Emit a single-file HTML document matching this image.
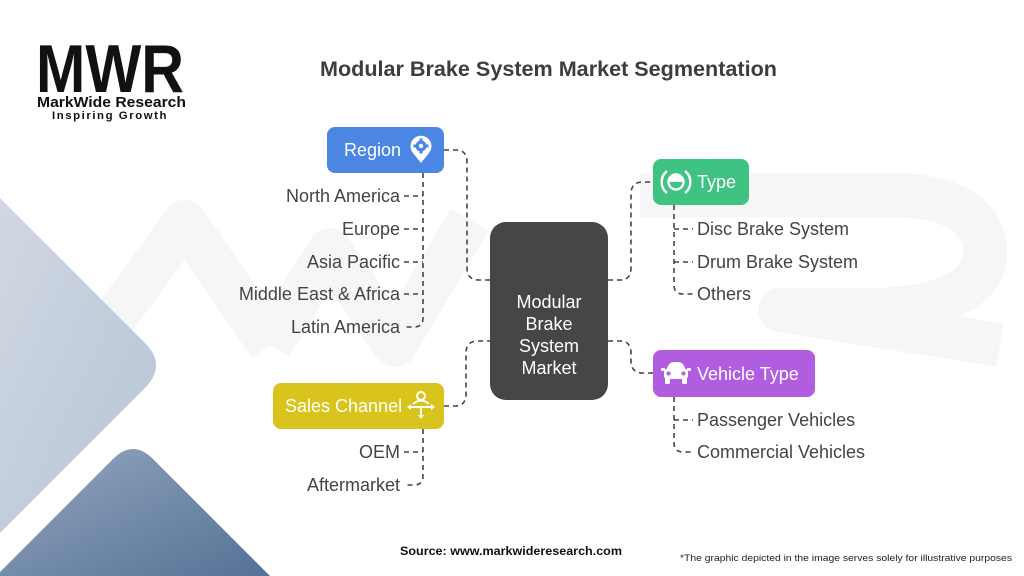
<!DOCTYPE html>
<html><head><meta charset="utf-8"><style>
html,body{margin:0;padding:0;background:#fff;}
svg{display:block;}
text{font-family:"Liberation Sans",Arial,sans-serif;}
</style></head><body>
<svg width="1024" height="576" viewBox="0 0 1024 576" xmlns="http://www.w3.org/2000/svg">
<defs>
<linearGradient id="gl" x1="0" y1="0" x2="1" y2="1"><stop offset="0" stop-color="#d0d8e2"/><stop offset="1" stop-color="#b6c4d4"/></linearGradient>
<linearGradient id="gd" x1="0" y1="0" x2="1" y2="1"><stop offset="0" stop-color="#93a7c0"/><stop offset="1" stop-color="#557195"/></linearGradient>
</defs>
<rect width="1024" height="576" fill="#fff"/>
<!-- watermark -->
<g fill="none" stroke="#f6f6f6" stroke-width="44" stroke-linejoin="round">
<polyline points="95,345 185,222 270,345"/>
<polyline points="270,345 330,250 395,345 470,220"/>
<path d="M640,195 H900 Q990,200 985,260 Q975,305 880,310 H780 L1000,345"/>
</g>
<!-- left decorative shapes -->
<path d="M0,198 L145,343 Q167,365 145,388 L0,533 Z" fill="url(#gl)"/>
<path d="M0,572 L113,459 Q133,439 153,459 L270,576 L0,576 Z" fill="url(#gd)"/>
<!-- logo -->
<text x="36" y="92" font-size="68" font-weight="bold" fill="#111" textLength="148" lengthAdjust="spacingAndGlyphs">MWR</text>
<text x="37" y="107" font-size="14.5" font-weight="bold" fill="#111" textLength="149" lengthAdjust="spacingAndGlyphs">MarkWide Research</text>
<text x="52" y="119" font-size="11" font-weight="bold" fill="#111" letter-spacing="1.5" textLength="116" lengthAdjust="spacingAndGlyphs">Inspiring Growth</text>
<!-- title -->
<text x="320" y="76" font-size="21" font-weight="bold" fill="#3d3d3d" textLength="457" lengthAdjust="spacingAndGlyphs">Modular Brake System Market Segmentation</text>
<!-- connectors -->
<g fill="none" stroke="#444" stroke-width="1.6" stroke-dasharray="5 4">
<path d="M444,150 H456 Q467,150 467,162 V268 Q467,280 479,280 H490"/>
<path d="M608,280 H620 Q631,280 631,268 V194 Q631,182 643,182 H653"/>
<path d="M444,406 H455 Q466,406 466,394 V353 Q466,341 478,341 H490"/>
<path d="M608,341 H620 Q631,341 631,353 V361 Q631,373 643,373 H653"/>
<path d="M423,173 V318 Q423,327 414,327 H404"/>
<path d="M404,196 H423 M404,229 H423 M404,262 H423 M404,294 H423"/>
<path d="M674,205 V285 Q674,294 683,294 H693"/>
<path d="M674,229 H693 M674,262 H693"/>
<path d="M674,397 V443 Q674,452 683,452 H693"/>
<path d="M674,420 H693"/>
<path d="M423,429 V476 Q423,485 414,485 H404"/>
<path d="M404,452 H423"/>
</g>
<!-- center -->
<rect x="490" y="222" width="118" height="178" rx="16" fill="#464646"/>
<g font-size="18" fill="#fff" text-anchor="middle">
<text x="549" y="308">Modular</text>
<text x="549" y="330">Brake</text>
<text x="549" y="352">System</text>
<text x="549" y="374">Market</text>
</g>
<!-- Region -->
<rect x="327" y="127" width="117" height="46" rx="8" fill="#4a86e2"/>
<text x="344" y="156" font-size="18" fill="#fff">Region</text>
<path d="M421,163 L413,153 A10.5,10.5 0 1 1 429,153 Z" fill="#fff"/>
<circle cx="421" cy="146" r="5.5" fill="#4a86e2"/>
<circle cx="421" cy="146" r="2.2" fill="#fff"/>
<g fill="#4a86e2"><rect x="419.5" y="138.5" width="3" height="3"/><rect x="419.5" y="150.5" width="3" height="3"/><rect x="413.5" y="144.5" width="3" height="3"/><rect x="425.5" y="144.5" width="3" height="3"/></g>
<!-- Type -->
<rect x="653" y="159" width="96" height="46" rx="8" fill="#3fc383"/>
<text x="697" y="188" font-size="18" fill="#fff">Type</text>
<g fill="none" stroke="#fff" stroke-width="2.4">
<circle cx="676" cy="182" r="7.5"/>
<path d="M667,171 A14,14 0 0 0 667,193"/>
<path d="M685,171 A14,14 0 0 1 685,193"/>
</g>
<path d="M669,182 A7,7 0 0 1 683,182 Z" fill="#fff"/>
<!-- Vehicle Type -->
<rect x="653" y="350" width="162" height="47" rx="8" fill="#b15de0"/>
<text x="697" y="380" font-size="18" fill="#fff">Vehicle Type</text>
<g fill="#fff">
<path d="M668,366 Q670,362 674,362 H678 Q682,362 684,366 L686,370 H666 Z"/>
<rect x="664" y="369" width="24" height="10" rx="3"/>
<rect x="665" y="378" width="5" height="6" rx="1.5"/>
<rect x="682" y="378" width="5" height="6" rx="1.5"/>
<rect x="661" y="368" width="4" height="3" rx="1"/>
<rect x="687" y="368" width="4" height="3" rx="1"/>
</g>
<circle cx="668.5" cy="373.5" r="2" fill="#b15de0"/>
<circle cx="683.5" cy="373.5" r="2" fill="#b15de0"/>
<!-- Sales Channel -->
<rect x="273" y="383" width="171" height="46" rx="8" fill="#d8c41c"/>
<text x="285" y="412" font-size="18" fill="#fff">Sales Channel</text>
<g fill="none" stroke="#fff" stroke-width="2">
<circle cx="421" cy="396" r="4"/>
<path d="M413,404 Q421,397 429,404"/>
<path d="M409,407 H433 M421,407 V416"/>
</g>
<g fill="#fff">
<path d="M407,407 L411,404 L411,410 Z"/>
<path d="M435,407 L431,404 L431,410 Z"/>
<path d="M421,419 L418,415 L424,415 Z"/>
</g>
<!-- items -->
<g font-size="18" fill="#444" text-anchor="end">
<text x="400" y="202">North America</text>
<text x="400" y="235">Europe</text>
<text x="400" y="268">Asia Pacific</text>
<text x="400" y="300">Middle East &amp; Africa</text>
<text x="400" y="333">Latin America</text>
<text x="400" y="458">OEM</text>
<text x="400" y="491">Aftermarket</text>
</g>
<g font-size="18" fill="#444">
<text x="697" y="235">Disc Brake System</text>
<text x="697" y="268">Drum Brake System</text>
<text x="697" y="300">Others</text>
<text x="697" y="426">Passenger Vehicles</text>
<text x="697" y="458">Commercial Vehicles</text>
</g>
<!-- footer -->
<text x="400" y="555" font-size="12" font-weight="bold" fill="#111" textLength="222" lengthAdjust="spacingAndGlyphs">Source: www.markwideresearch.com</text>
<text x="680" y="561" font-size="9.5" fill="#222" textLength="332" lengthAdjust="spacingAndGlyphs">*The graphic depicted in the image serves solely for illustrative purposes</text>
</svg>
</body></html>
